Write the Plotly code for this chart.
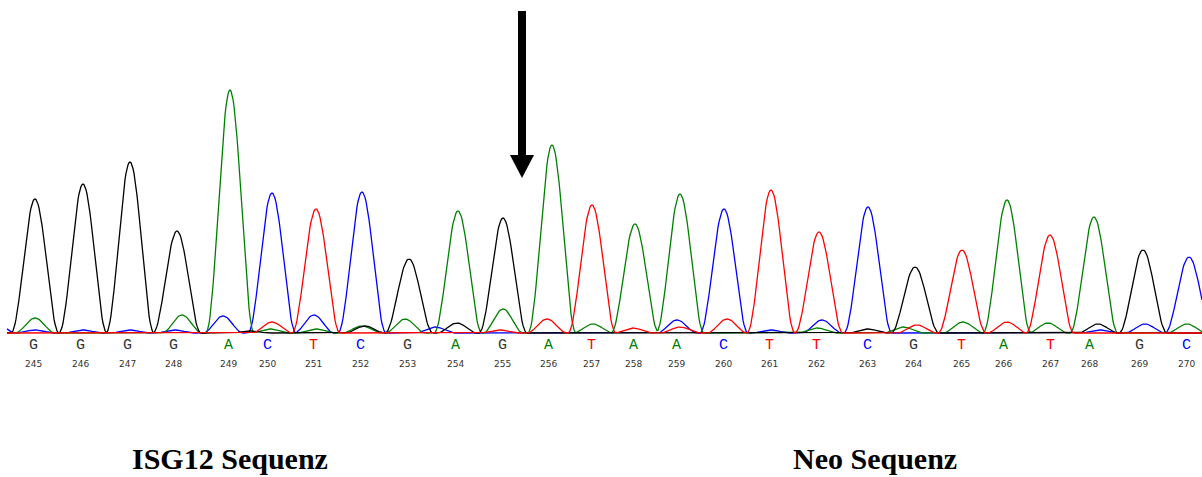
import numpy as np
import plotly.graph_objects as go

# ---- data ----
base_numbers = list(range(245, 271))
base_calls = ["G", "G", "G", "G", "A", "C", "T", "C", "G", "A", "G", "A", "T",
              "A", "A", "C", "T", "T", "C", "G", "T", "A", "T", "A", "G", "C"]
call_pos = [33, 80, 127, 173, 228, 267, 313, 360, 407, 455, 502, 548, 591,
            633, 676, 723, 769, 816, 867, 913, 961, 1003, 1050, 1089, 1139, 1186]
peak_pos = [35, 83, 130, 177, 230, 272, 316, 362, 409, 458, 503, 552, 592,
            635, 680, 724, 771, 819, 868, 915, 962, 1007, 1050, 1094, 1143, 1189]
peak_height = [134, 149, 171, 102, 243, 140, 124, 141, 74, 122, 113, 188, 128,
               109, 139, 124, 143, 101, 126, 66, 83, 133, 98, 116, 83, 76]

minor_G = [(250, 2), (365, 7), (457, 10), (505, 2), (868, 4), (1098, 9)]
minor_A = [(35, 15), (182, 18), (270, 4), (316, 4), (362, 7), (405, 14), (503, 24),
           (593, 9), (817, 5), (903, 6), (963, 11), (1048, 10), (1187, 9)]
minor_C = [(-5, 12), (35, 3), (83, 3), (130, 3), (175, 3), (223, 17), (314, 18),
           (435, 6), (677, 13), (771, 3), (822, 13), (1100, 3), (1145, 9)]
minor_T = [(272, 11), (500, 3), (547, 14), (633, 5), (680, 6), (727, 14),
           (917, 8), (1007, 11)]

titles = ["ISG12 Sequenz", "Neo Sequenz"]
title_pos = [230, 875]

# ---- styling ----
colors = {"G": "#000000", "A": "#008000", "C": "#0000ff", "T": "#ff0000"}
label_colors = {"G": "#333333", "A": "#008000", "C": "#0000ff", "T": "#ff0000"}
minor = {"G": minor_G, "A": minor_A, "C": minor_C, "T": minor_T}

x = np.arange(7, 1203, 1.0)


def bump(p, h, w):
    d = np.abs(x - p)
    return np.where(d < w, h * np.cos(np.pi * d / (2 * w)) ** 2, 0.0)


def channel(base):
    y = np.zeros_like(x)
    for b, p, h in zip(base_calls, peak_pos, peak_height):
        if b == base:
            y += bump(p, h, 24)
    for p, h in minor[base]:
        y += bump(p, h, 20)
    return y


fig = go.Figure()
for b in ["C", "A", "G", "T"]:
    fig.add_trace(go.Scatter(x=x, y=channel(b), mode="lines",
                             line=dict(color=colors[b], width=1.3),
                             hoverinfo="skip", showlegend=False))

ann = []
for b, xp, n in zip(base_calls, call_pos, base_numbers):
    ann.append(dict(x=xp, y=-12, text=b, showarrow=False, xanchor="center", yanchor="middle",
                    font=dict(family="Liberation Mono", size=15, color=label_colors[b])))
    ann.append(dict(x=xp, y=-31, text=str(n), showarrow=False, xanchor="center", yanchor="middle",
                    font=dict(family="DejaVu Sans", size=9, color="#333333")))
for t, xp in zip(titles, title_pos):
    ann.append(dict(x=xp, y=-125, text="<b>%s</b>" % t, showarrow=False,
                    xanchor="center", yanchor="middle",
                    font=dict(family="Liberation Serif", size=30, color="#000000")))

# arrow marking the junction
arrow_x, arrow_top, arrow_head, arrow_tip = 522, 322, 178, 155
shapes = [
    dict(type="rect", xref="x", yref="y", x0=arrow_x - 4, x1=arrow_x + 4,
         y0=arrow_head - 1, y1=arrow_top, fillcolor="black", line=dict(width=0)),
    dict(type="path", xref="x", yref="y",
         path=f"M {arrow_x-12},{arrow_head} L {arrow_x+12},{arrow_head} L {arrow_x},{arrow_tip} Z",
         fillcolor="black", line=dict(width=0)),
]

fig.update_layout(
    width=1202, height=477,
    margin=dict(l=0, r=0, t=0, b=0),
    paper_bgcolor="white", plot_bgcolor="white",
    xaxis=dict(range=[0, 1202], visible=False, fixedrange=True),
    yaxis=dict(range=[-144, 333], visible=False, fixedrange=True),
    annotations=ann, shapes=shapes,
)

fig.write_html("out.html", config={"displayModeBar": False},
               post_script="document.body.style.margin='0px';document.body.style.overflow='hidden';")
